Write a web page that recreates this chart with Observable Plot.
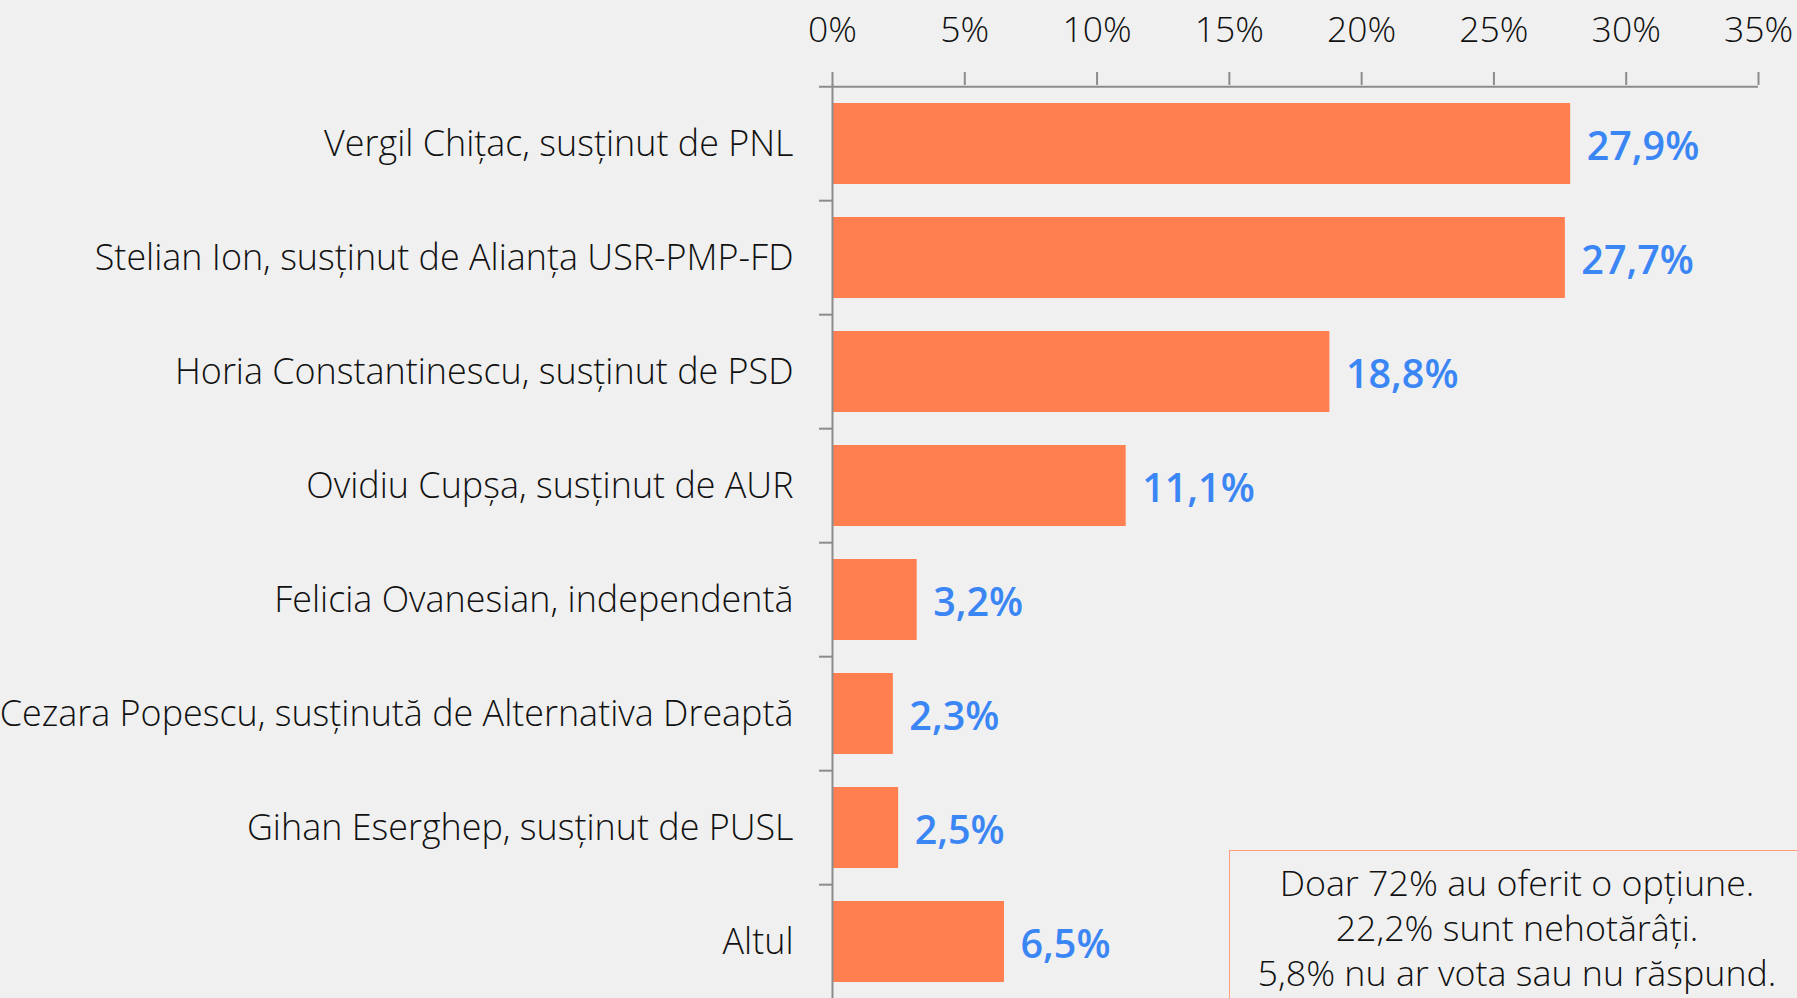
<!DOCTYPE html>
<html>
<head>
<meta charset="utf-8">
<script src="https://cdn.jsdelivr.net/npm/d3@7"></script>
<script src="https://cdn.jsdelivr.net/npm/@observablehq/plot@0.6"></script>
<style>
html, body { margin: 0; padding: 0; background: #f0f0f0; overflow: hidden; }
#wrap { position: relative; width: 1797px; height: 998px; overflow: hidden; }
#note {
  position: absolute; left: 1229px; top: 850px; width: 576px; height: 200px;
  border: 1.5px solid #ff9f7c; box-sizing: border-box;
  font-family: "Open Sans", sans-serif; font-weight: 300; font-size: 35.8px; line-height: 45px;
  text-align: center; color: #111; padding-top: 9px;
}
</style>
</head>
<body>
<div id="wrap"></div>
<script>
const candidates = [
  "Vergil Chițac, susținut de PNL",
  "Stelian Ion, susținut de Alianța USR-PMP-FD",
  "Horia Constantinescu, susținut de PSD",
  "Ovidiu Cupșa, susținut de AUR",
  "Felicia Ovanesian, independentă",
  "Cezara Popescu, susținută de Alternativa Dreaptă",
  "Gihan Eserghep, susținut de PUSL",
  "Altul"
];
const values = [27.9, 27.7, 18.8, 11.1, 3.2, 2.3, 2.5, 6.5];
const xTicks = [0, 5, 10, 15, 20, 25, 30, 35];
const noteLines = [
  "Doar 72% au oferit o opțiune.",
  "22,2% sunt nehotărâți.",
  "5,8% nu ar vota sau nu răspund."
];

const data = candidates.map((name, i) => ({name, value: values[i]}));
const W = 1797, H = 1001, mt = 84, mb = 0, ml = 832, mr = 39;
const step = (H - mt - mb) / candidates.length;
const tickLen = 13 / ((W - ml - mr) / 35);
const axisColor = "#8c8c8c";
const fmt = v => v.toFixed(1).replace(".", ",") + "%";

const chart = Plot.plot({
  width: W, height: H,
  marginTop: mt, marginBottom: mb, marginLeft: ml, marginRight: mr,
  style: {background: "#f0f0f0", fontFamily: "'Open Sans', sans-serif", color: "#111"},
  x: {domain: [0, 35]},
  y: {domain: candidates, paddingInner: 0.288, paddingOuter: 0.144},
  marks: [
    Plot.barX(data, {x: "value", y: "name", fill: "#ff7f50"}),
    Plot.ruleX([0], {stroke: axisColor, strokeWidth: 2}),
    Plot.ruleY([candidates[0]], {x1: -tickLen, x2: 35, dy: -step / 2, stroke: axisColor, strokeWidth: 2}),
    Plot.ruleY(candidates.slice(1), {x1: -tickLen, x2: 0, dy: -step / 2, stroke: axisColor, strokeWidth: 2}),
    Plot.axisX(xTicks, {anchor: "top", tickSize: 13, tickPadding: 30, tickFormat: d => d + "%", fontSize: 35.5, fontWeight: 300, stroke: axisColor, strokeWidth: 2, label: null}),
    Plot.axisY({tickSize: 0, tickPadding: 39, fontSize: 35.9, fontWeight: 300, label: null}),
    Plot.text(data, {x: "value", y: "name", text: d => fmt(d.value), dx: 16, dy: 3, textAnchor: "start", fill: "#3b86f5", fontSize: 39.5, fontWeight: 600})
  ]
});
const wrap = document.getElementById("wrap");
wrap.appendChild(chart);
const note = document.createElement("div");
note.id = "note";
note.innerHTML = noteLines.map(t => `<div>${t}</div>`).join("");
wrap.appendChild(note);
</script>
</body>
</html>
